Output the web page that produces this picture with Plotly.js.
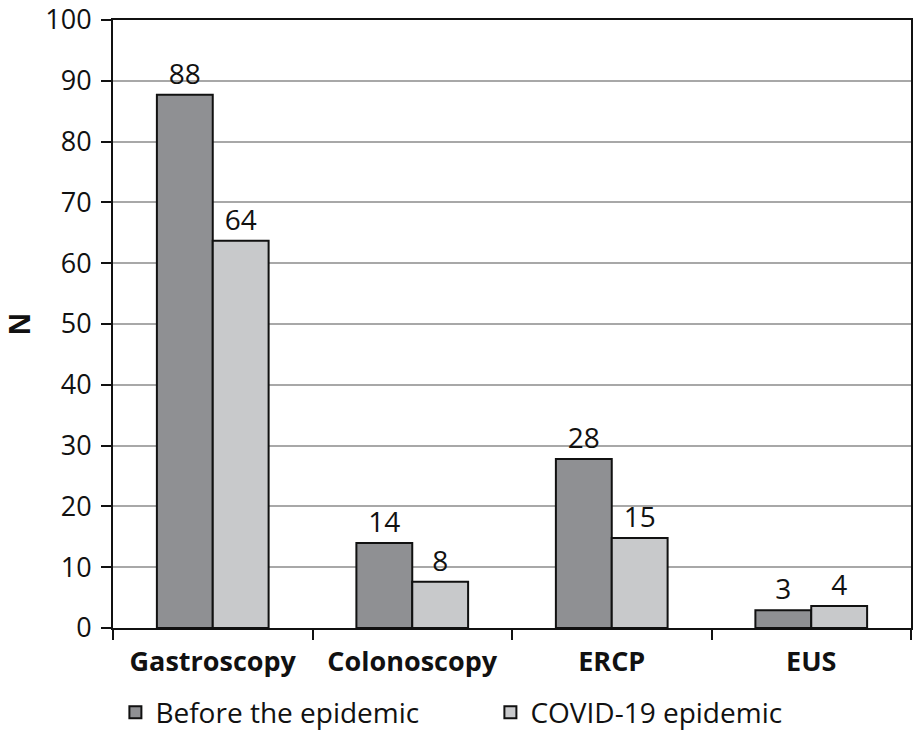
<!DOCTYPE html>
<html><head><meta charset="utf-8">
<script src="https://cdn.plot.ly/plotly-3.0.1.min.js"></script>
<style>body{margin:0;background:#fff}#c{width:914px;height:731px}</style>
</head><body><div id="c"></div>
<script>
const categories = ['Gastroscopy', 'Colonoscopy', 'ERCP', 'EUS'];
const beforeValues = [87.7, 14, 27.8, 2.9];
const covidValues = [63.7, 7.6, 14.8, 3.6];
const beforeLabels = ['88', '14', '28', '3'];
const covidLabels = ['64', '8', '15', '4'];
const seriesNames = ['Before the epidemic', 'COVID-19 epidemic'];
const yTicks = [0, 10, 20, 30, 40, 50, 60, 70, 80, 90, 100];

const FONT = 'Open Sans, Noto Sans, sans-serif';
const traces = [
  {type:'bar', x:categories, y:beforeValues, name:seriesNames[0], text:beforeLabels,
   textposition:'outside', textfont:{size:28, color:'#111', family:FONT}, cliponaxis:false,
   marker:{color:'#8f9093', line:{color:'#111', width:2}}},
  {type:'bar', x:categories, y:covidValues, name:seriesNames[1], text:covidLabels,
   textposition:'outside', textfont:{size:28, color:'#111', family:FONT}, cliponaxis:false,
   marker:{color:'#c8c9cb', line:{color:'#111', width:2}}}
];
const layout = {
  width:914, height:731,
  margin:{l:113, r:3, t:20, b:103, autoexpand:false},
  paper_bgcolor:'#fff', plot_bgcolor:'#fff',
  font:{family:FONT, color:'#111', size:27},
  barmode:'group', bargap:0.44, bargroupgap:0,
  showlegend:true,
  legend:{orientation:'h', x:0.003, xanchor:'left', y:-0.139, yanchor:'middle',
          font:{size:28, family:FONT}, itemwidth:30, tracegroupgap:0,
          entrywidth:330, entrywidthmode:'pixels'},
  xaxis:{type:'category', tickson:'boundaries', ticks:'outside', ticklen:10, tickwidth:2,
         tickcolor:'#111', showline:true, linecolor:'#111', linewidth:2, mirror:true,
         showgrid:false, tickfont:{size:27, family:FONT, weight:'bold'}, range:[-0.5,3.5],
         ticklabelstandoff:9},
  yaxis:{range:[0,100], tickvals:yTicks, ticks:'outside', ticklen:10, tickwidth:2, tickcolor:'#111',
         showline:true, linecolor:'#111', linewidth:2, mirror:true,
         showgrid:true, gridcolor:'#a8a8a8', gridwidth:2, zeroline:false,
         tickfont:{size:27, family:FONT}, ticklabelstandoff:4, ticklabeloverflow:'allow',
         title:{text:'N', font:{size:28, family:FONT, weight:'bold'}, standoff:38}}
};
Plotly.newPlot('c', traces, layout, {displayModeBar:false, staticPlot:true});
</script></body></html>
